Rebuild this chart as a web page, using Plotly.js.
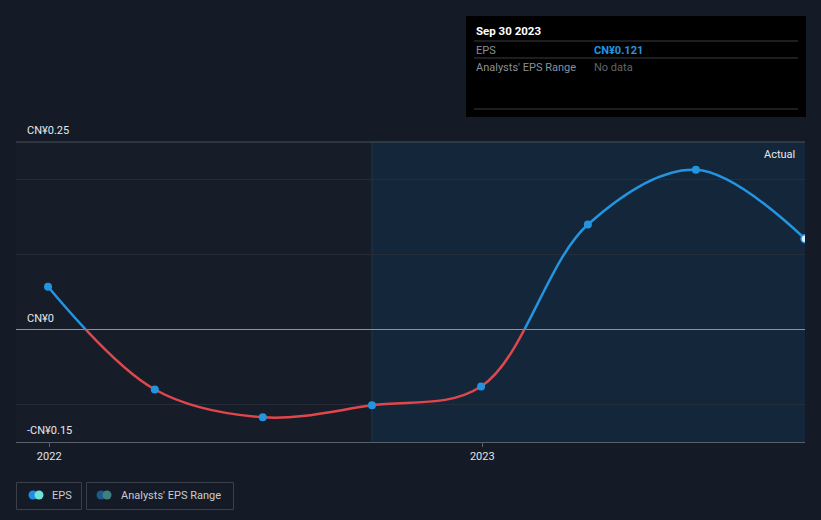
<!DOCTYPE html>
<html>
<head>
<meta charset="utf-8">
<script src="https://cdn.plot.ly/plotly-3.0.1.min.js"></script>
<style>
html,body{margin:0;padding:0;background:#151b26;}
#chart{width:821px;height:520px;}
</style>
</head>
<body>
<div id="chart"></div>
<script>
// ---- data ----
const dates = ['2021-12-31','2022-03-31','2022-06-30','2022-09-30','2022-12-31','2023-03-31','2023-06-30','2023-09-30'];
const eps = [0.057, -0.080, -0.117, -0.101, -0.076, 0.140, 0.213, 0.121];
const xTickVals = ['2022-01-01','2023-01-01'];
const xTickText = ['2022','2023'];
const yLabelVals = [0.25, 0, -0.15];
const yLabelText = ['CN¥0.25','CN¥0','-CN¥0.15'];
const forecastStart = '2022-09-30';
const tooltipDate = 'Sep 30 2023';
const tooltipEps = 'CN¥0.121';
const tooltipRange = 'No data';
const legendNames = ['EPS', "Analysts' EPS Range"];

// ---- geometry helpers (pixels -> paper) ----
const W = 821, H = 520, L = 16, R = 16, T = 142, B = 78;
const pw = W - L - R, ph = H - T - B;
const px = x => (x - L) / pw;
const py = y => (H - B - y) / ph;
const yMin = -0.15, yMax = 0.25;
const zeroFrac = (0 - yMin) / (yMax - yMin);
const xRange = ['2021-12-04', '2023-09-30'];

const BLUE = '#2394e0', RED = '#e0474c';
const last = eps.length - 1;
const mColor = eps.map((v, i) => i === last ? '#dcefff' : BLUE);
const mLineW = eps.map((v, i) => i === last ? 1.5 : 0);

const traces = [
  {x: dates, y: eps, xaxis: 'x', yaxis: 'y2', type: 'scatter', mode: 'lines',
   line: {color: BLUE, width: 2.5, shape: 'spline', smoothing: 1}, hoverinfo: 'skip', showlegend: false},
  {x: dates, y: eps.map(v => v >= 0 ? v : null), xaxis: 'x', yaxis: 'y2', type: 'scatter', mode: 'markers',
   marker: {size: 8, color: mColor, line: {color: BLUE, width: mLineW}}, hoverinfo: 'skip', showlegend: false},
  {x: dates, y: eps, xaxis: 'x', yaxis: 'y3', type: 'scatter', mode: 'lines',
   line: {color: RED, width: 2.5, shape: 'spline', smoothing: 1}, hoverinfo: 'skip', showlegend: false},
  {x: dates, y: eps.map(v => v < 0 ? v : null), xaxis: 'x', yaxis: 'y3', type: 'scatter', mode: 'markers',
   marker: {size: 8, color: mColor, line: {color: BLUE, width: mLineW}}, hoverinfo: 'skip', showlegend: false}
];

const shapes = [
  {type: 'rect', xref: 'paper', yref: 'paper', x0: 0, x1: 1, y0: 0, y1: 1,
   fillcolor: '#171d28', line: {width: 0}, layer: 'below'},
  {type: 'rect', xref: 'x', yref: 'paper', x0: forecastStart, x1: xRange[1], y0: 0, y1: 1,
   fillcolor: '#13263a', line: {width: 0}, layer: 'below'},
  {type: 'line', xref: 'x', yref: 'paper', x0: forecastStart, x1: forecastStart, y0: 0, y1: 1,
   line: {color: '#1d3550', width: 1}, layer: 'below'},
  {type: 'line', xref: 'paper', yref: 'paper', x0: 0, x1: 1, y0: 1, y1: 1,
   line: {color: '#4a505a', width: 1}},
  // tooltip
  {type: 'rect', xref: 'paper', yref: 'paper', x0: px(466), x1: px(806), y0: py(117), y1: py(16),
   fillcolor: '#000000', line: {width: 0}},
  {type: 'line', xref: 'paper', yref: 'paper', x0: px(474), x1: px(798), y0: py(41), y1: py(41),
   line: {color: '#3a3d42', width: 1}},
  {type: 'line', xref: 'paper', yref: 'paper', x0: px(474), x1: px(798), y0: py(58), y1: py(58),
   line: {color: '#3a3d42', width: 1}},
  {type: 'line', xref: 'paper', yref: 'paper', x0: px(474), x1: px(798), y0: py(109), y1: py(109),
   line: {color: '#3a3d42', width: 1}},
  // legend boxes
  {type: 'rect', xref: 'paper', yref: 'paper', x0: px(16.5), x1: px(81.5), y0: py(509.5), y1: py(482.5),
   fillcolor: 'rgba(0,0,0,0)', line: {color: '#3a404a', width: 1}},
  {type: 'rect', xref: 'paper', yref: 'paper', x0: px(86.5), x1: px(233.5), y0: py(509.5), y1: py(482.5),
   fillcolor: 'rgba(0,0,0,0)', line: {color: '#3a404a', width: 1}},
];
function dot(cx, cy, color) {
  return {type: 'circle', xref: 'paper', yref: 'paper', xsizemode: 'pixel', ysizemode: 'pixel',
    xanchor: px(cx), yanchor: py(cy), x0: -4.5, x1: 4.5, y0: -4.5, y1: 4.5,
    fillcolor: color, line: {width: 0}};
}
shapes.push(dot(33, 495, '#1f8ee0'), dot(39, 495, '#6fe3d8'));
shapes.push(dot(101, 495, '#1d5a88'), dot(107, 495, '#3f7f80'));

const annotations = [];
yLabelVals.forEach((v, i) => {
  annotations.push({xref: 'paper', yref: 'y', x: px(25), y: v, xanchor: 'left', yanchor: 'bottom',
    yshift: 3, text: yLabelText[i], showarrow: false,
    font: {family: 'Roboto', size: 11, color: '#e6e8eb'}});
});
annotations.push({xref: 'paper', yref: 'paper', x: px(797), y: py(154), xanchor: 'right', yanchor: 'middle',
  text: 'Actual', showarrow: false, font: {family: 'Roboto', size: 11, color: '#e6e8eb'}});
// tooltip texts
annotations.push({xref: 'paper', yref: 'paper', x: px(474), y: py(31), xanchor: 'left', yanchor: 'middle',
  text: '<b>' + tooltipDate + '</b>', showarrow: false, font: {family: 'Roboto', size: 11.5, color: '#ffffff'}});
annotations.push({xref: 'paper', yref: 'paper', x: px(474), y: py(50.5), xanchor: 'left', yanchor: 'middle',
  text: 'EPS', showarrow: false, font: {family: 'Roboto', size: 11, color: '#8a8f96'}});
annotations.push({xref: 'paper', yref: 'paper', x: px(592), y: py(50.5), xanchor: 'left', yanchor: 'middle',
  text: '<b>' + tooltipEps + '</b>', showarrow: false, font: {family: 'Roboto', size: 11, color: BLUE}});
annotations.push({xref: 'paper', yref: 'paper', x: px(474), y: py(67.5), xanchor: 'left', yanchor: 'middle',
  text: "Analysts' EPS Range", showarrow: false, font: {family: 'Roboto', size: 11, color: '#8a8f96'}});
annotations.push({xref: 'paper', yref: 'paper', x: px(592), y: py(67.5), xanchor: 'left', yanchor: 'middle',
  text: tooltipRange, showarrow: false, font: {family: 'Roboto', size: 11, color: '#62666c'}});
// legend texts
annotations.push({xref: 'paper', yref: 'paper', x: px(50), y: py(495), xanchor: 'left', yanchor: 'middle',
  text: legendNames[0], showarrow: false, font: {family: 'Roboto', size: 11, color: '#c8ccd2'}});
annotations.push({xref: 'paper', yref: 'paper', x: px(119), y: py(495), xanchor: 'left', yanchor: 'middle',
  text: legendNames[1], showarrow: false, font: {family: 'Roboto', size: 11, color: '#c8ccd2'}});

const layout = {
  width: W, height: H,
  margin: {l: L, r: R, t: T, b: B, pad: 0},
  paper_bgcolor: '#151b26', plot_bgcolor: 'rgba(0,0,0,0)',
  showlegend: false,
  font: {family: 'Roboto', color: '#d0d4da', size: 11},
  xaxis: {type: 'date', range: xRange, tickvals: xTickVals, ticktext: xTickText,
    showgrid: false, zeroline: false, showline: true, linecolor: '#5a606a', linewidth: 1,
    ticks: 'outside', ticklen: 4, tickcolor: '#5a606a', tickfont: {family: 'Roboto', size: 11, color: '#e0e3e7'},
    fixedrange: true},
  yaxis: {range: [yMin, yMax], tick0: 0, dtick: 0.1, showticklabels: false, ticks: '',
    gridcolor: '#262d38', gridwidth: 1, zeroline: true, zerolinecolor: '#8e9399', zerolinewidth: 1.5,
    showline: false, fixedrange: true},
  yaxis2: {domain: [zeroFrac, 1], range: [0, yMax], anchor: 'x', visible: false, fixedrange: true},
  yaxis3: {domain: [0, zeroFrac], range: [yMin, 0], anchor: 'x', visible: false, fixedrange: true},
  shapes: shapes,
  annotations: annotations
};

Plotly.newPlot('chart', traces, layout, {displayModeBar: false, staticPlot: true});
</script>
</body>
</html>
